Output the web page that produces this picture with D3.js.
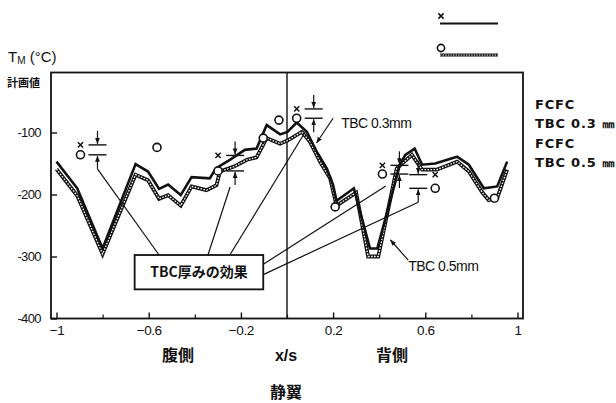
<!DOCTYPE html>
<html><head><meta charset="utf-8">
<script src="https://cdn.jsdelivr.net/npm/d3@7"></script>
<style>body{margin:0;background:#fff}svg{display:block}</style>
</head><body>
<svg id="chart" width="616" height="403"></svg>
<script>
// Metal temperature along the vane surface, x/s from pressure side (-1) to suction side (+1)
// FCFC, TBC 0.3 mm (solid line)
const tbc03X = [-1.0, -0.91, -0.80, -0.657, -0.603, -0.555, -0.516, -0.461, -0.414, -0.335, -0.309, -0.248, -0.183, -0.132, -0.088, -0.03, 0.002, 0.042, 0.086, 0.129, 0.173, 0.20, 0.215, 0.29, 0.36, 0.392, 0.49, 0.513, 0.554, 0.586, 0.643, 0.738, 0.789, 0.854, 0.912, 0.955];
const tbc03T = [-147, -190, -287, -151, -163, -191, -184, -201, -172, -174, -158, -144, -128, -126, -88, -103, -99, -84, -99, -131, -158, -185, -210, -190, -287, -287, -152, -136, -126, -152, -150, -139, -152, -190, -187, -147];
// FCFC, TBC 0.5 mm (hatched line)
const tbc05X = [-1.0, -0.91, -0.80, -0.657, -0.603, -0.555, -0.516, -0.461, -0.414, -0.349, -0.306, -0.291, -0.23, -0.174, -0.132, -0.088, -0.03, 0.002, 0.064, 0.10, 0.143, 0.187, 0.215, 0.30, 0.352, 0.396, 0.476, 0.542, 0.586, 0.649, 0.738, 0.789, 0.846, 0.875, 0.912, 0.955];
const tbc05T = [-159, -202, -296, -168, -177, -207, -201, -218, -187, -193, -185, -163, -155, -144, -140, -109, -118, -113, -99, -115, -147, -174, -218, -197, -300, -300, -158, -136, -160, -160, -147, -163, -196, -209, -206, -160];
// Design values (計画値): × for TBC 0.3 mm, ○ for TBC 0.5 mm
const planCrossX = [-0.896, -0.299, 0.042, 0.414, 0.643];
const planCrossT = [-120, -137, -62, -153, -168];
const planCircleX = [-0.896, -0.564, -0.299, -0.103, -0.035, 0.042, 0.209, 0.414, 0.643, 0.90];
const planCircleT = [-136, -124, -162, -109, -80, -77, -220, -167, -190, -206];
// Thickness effect markers: design value pairs (× upper, ○ lower)
const effectX = [-0.896, -0.299, 0.042, 0.414, 0.643];
const effectHi = [-120, -137, -62, -153, -168];
const effectLo = [-136, -162, -77, -167, -190];
// Axis ticks
const xTicks = [-1, -0.6, -0.2, 0.2, 0.6, 1];
const xTickLabels = ["\u22121", "\u22120.6", "\u22120.2", "0.2", "0.6", "1"];
const xMinorTicks = [-0.8, -0.4, 0, 0.4, 0.8];
const yTicks = [-100, -200, -300, -400];
const yTickLabels = ["-100", "-200", "-300", "-400"];

const svg = d3.select("#chart");
const INK = "#111";
const latin = "'Liberation Sans', Arial, sans-serif";
const cjk = "'Noto Sans CJK JP', 'Noto Sans', sans-serif";

const plot = {left: 51, right: 523, top: 72.5, bottom: 318.5};
const x = d3.scaleLinear().domain([-1, 1]).range([56.5, 517.5]);
const y = d3.scaleLinear().domain([-400, 0]).range([318.5, 70.5]);

// frame
svg.append("rect")
  .attr("x", plot.left).attr("y", plot.top)
  .attr("width", plot.right - plot.left).attr("height", plot.bottom - plot.top)
  .attr("fill", "none").attr("stroke", INK).attr("stroke-width", 1.8);

// x/s = 0 (leading edge) divider
svg.append("line")
  .attr("x1", x(0)).attr("x2", x(0))
  .attr("y1", plot.top).attr("y2", plot.bottom)
  .attr("stroke", INK).attr("stroke-width", 1.4);

// y axis
const yAxis = svg.append("g").attr("transform", `translate(${plot.left},0)`)
  .call(d3.axisLeft(y).tickValues(yTicks).tickSizeInner(-6).tickSizeOuter(0).tickPadding(10)
    .tickFormat((d, i) => yTickLabels[i]));
yAxis.select(".domain").remove();
yAxis.selectAll("line").attr("stroke", INK).attr("stroke-width", 1.4);
yAxis.selectAll("text").attr("font-family", latin).attr("font-size", 13)
  .attr("fill", INK).attr("letter-spacing", -0.6);

// x axis
const xAxis = svg.append("g").attr("transform", `translate(0,${plot.bottom})`)
  .call(d3.axisBottom(x).tickValues(xTicks).tickSizeInner(-6).tickSizeOuter(0).tickPadding(7)
    .tickFormat((d, i) => xTickLabels[i]));
xAxis.select(".domain").remove();
xAxis.selectAll("line").attr("stroke", INK).attr("stroke-width", 1.4);
xAxis.selectAll("text").attr("font-family", latin).attr("font-size", 13.5)
  .attr("fill", INK).attr("letter-spacing", -0.4);

const xMinor = svg.append("g").attr("transform", `translate(0,${plot.bottom})`)
  .call(d3.axisBottom(x).tickValues(xMinorTicks).tickSizeInner(-4).tickSizeOuter(0).tickFormat(""));
xMinor.select(".domain").remove();
xMinor.selectAll("line").attr("stroke", INK).attr("stroke-width", 1.2);

// curves
const line = d3.line().x(d => x(d[0])).y(d => y(d[1]));
const pts05 = tbc05X.map((v, i) => [v, tbc05T[i]]);
const pts03 = tbc03X.map((v, i) => [v, tbc03T[i]]);

svg.append("path").attr("d", line(pts05))
  .attr("fill", "none").attr("stroke", INK).attr("stroke-width", 3.8)
  .attr("stroke-linejoin", "miter");
svg.append("path").attr("d", line(pts05))
  .attr("fill", "none").attr("stroke", "#fff").attr("stroke-width", 1.3)
  .attr("stroke-dasharray", "1.6 1.4");
svg.append("path").attr("d", line(pts03))
  .attr("fill", "none").attr("stroke", INK).attr("stroke-width", 2.6)
  .attr("stroke-linejoin", "miter");

// design value markers
function cross(g, cx, cy, s) {
  g.append("path")
    .attr("d", `M${cx - s},${cy - s}L${cx + s},${cy + s}M${cx - s},${cy + s}L${cx + s},${cy - s}`)
    .attr("stroke", INK).attr("stroke-width", 1.5).attr("fill", "none");
}
const marks = svg.append("g");
planCrossX.forEach((v, i) => cross(marks, x(v), y(planCrossT[i]), 2.6));
marks.selectAll("circle.plan").data(planCircleX).join("circle").attr("class", "plan")
  .attr("cx", d => x(d)).attr("cy", (d, i) => y(planCircleT[i])).attr("r", 4)
  .attr("fill", "#fff").attr("stroke", INK).attr("stroke-width", 1.6);

// arrowheads
const defs = svg.append("defs");
defs.append("marker").attr("id", "ah").attr("viewBox", "0 0 10 10")
  .attr("refX", 10).attr("refY", 5).attr("markerWidth", 6).attr("markerHeight", 6)
  .attr("markerUnits", "userSpaceOnUse").attr("orient", "auto")
  .append("path").attr("d", "M0,1L10,5L0,9Z").attr("fill", INK);

// thickness-effect brackets: two bars with converging arrows
const bracketSide = [1, 1, 1, 1, -1];
const ann = svg.append("g").attr("stroke", INK).attr("fill", "none");
const tails = [];
effectX.forEach((v, i) => {
  const cx = x(v) + bracketSide[i] * 17;
  const yh = y(effectHi[i]), yl = y(effectLo[i]);
  ann.append("line").attr("x1", cx - 9).attr("x2", cx + 9).attr("y1", yh).attr("y2", yh).attr("stroke-width", 1.4);
  ann.append("line").attr("x1", cx - 9).attr("x2", cx + 9).attr("y1", yl).attr("y2", yl).attr("stroke-width", 1.4);
  ann.append("line").attr("x1", cx).attr("x2", cx).attr("y1", yh - 14).attr("y2", yh - 1)
    .attr("stroke-width", 1.2).attr("marker-end", "url(#ah)");
  ann.append("line").attr("x1", cx).attr("x2", cx).attr("y1", yl + 14).attr("y2", yl + 1)
    .attr("stroke-width", 1.2).attr("marker-end", "url(#ah)");
  tails.push([cx, yl + 14]);
});

// "TBC厚みの効果" call-out box with leaders
const box = {x0: -0.661, x1: -0.103, t0: -297.6, t1: -353};
const bx0 = x(box.x0), bx1 = x(box.x1), by0 = y(box.t0), by1 = y(box.t1);
const anchors = [
  [bx0 + (bx1 - bx0) * 0.19, by0],
  [bx0 + (bx1 - bx0) * 0.57, by0],
  [bx0 + (bx1 - bx0) * 0.74, by0],
  [bx1, by0 + (by1 - by0) * 0.27],
  [bx1, by0 + (by1 - by0) * 0.57]
];
const leaderTarget = [tails[0], [tails[1][0] - 5, tails[1][1] + 2], [tails[2][0] - 8, tails[2][1] - 1], [x(0.42) + 2, y(-167) + 12], tails[4]];
anchors.forEach((a, i) => {
  ann.append("line").attr("x1", a[0]).attr("y1", a[1])
    .attr("x2", leaderTarget[i][0]).attr("y2", leaderTarget[i][1]).attr("stroke-width", 1.2);
});
svg.append("rect").attr("x", bx0).attr("y", by0).attr("width", bx1 - bx0).attr("height", by1 - by0)
  .attr("fill", "#fff").attr("stroke", INK).attr("stroke-width", 1.8);
svg.append("text").attr("x", (bx0 + bx1) / 2).attr("y", (by0 + by1) / 2 + 5)
  .attr("text-anchor", "middle").attr("font-family", cjk).attr("font-weight", 700)
  .attr("font-size", 14).attr("fill", INK).text("TBC厚みの効果");

// curve labels
svg.append("line").attr("x1", x(0.2)).attr("y1", y(-77)).attr("x2", x(0.128)).attr("y2", y(-117))
  .attr("stroke", INK).attr("stroke-width", 1.2).attr("marker-end", "url(#ah)");
svg.append("text").attr("x", x(0.235)).attr("y", y(-92)).attr("font-family", latin)
  .attr("font-size", 14).attr("letter-spacing", -0.5).attr("fill", INK).text("TBC 0.3mm");
svg.append("line").attr("x1", x(0.526)).attr("y1", y(-306)).attr("x2", x(0.448)).attr("y2", y(-273))
  .attr("stroke", INK).attr("stroke-width", 1.2).attr("marker-end", "url(#ah)");
svg.append("text").attr("x", x(0.526)).attr("y", y(-323)).attr("font-family", latin)
  .attr("font-size", 14).attr("letter-spacing", -0.5).attr("fill", INK).text("TBC 0.5mm");

// axis titles
const yt = svg.append("text").attr("x", 8).attr("y", 62).attr("font-family", latin)
  .attr("font-size", 15).attr("fill", INK);
yt.append("tspan").text("T");
yt.append("tspan").attr("font-size", 10).attr("dy", 2).text("M");
yt.append("tspan").attr("dy", -2).text(" (°C)");
svg.append("text").attr("x", 7).attr("y", 87).attr("font-family", cjk).attr("font-weight", 700)
  .attr("font-size", 11).attr("fill", INK).text("計画値");

svg.append("text").attr("x", 178).attr("y", 361).attr("text-anchor", "middle").attr("font-family", cjk)
  .attr("font-weight", 700).attr("font-size", 16).attr("fill", INK).text("腹側");
svg.append("text").attr("x", 286).attr("y", 361).attr("text-anchor", "middle").attr("font-family", latin)
  .attr("font-weight", 700).attr("font-size", 16).attr("fill", INK).text("x/s");
svg.append("text").attr("x", 392).attr("y", 361).attr("text-anchor", "middle").attr("font-family", cjk)
  .attr("font-weight", 700).attr("font-size", 16).attr("fill", INK).text("背側");
svg.append("text").attr("x", 286).attr("y", 398).attr("text-anchor", "middle").attr("font-family", cjk)
  .attr("font-weight", 700).attr("font-size", 16).attr("fill", INK).text("静翼");

// legend
const leg = svg.append("g");
cross(leg, 441, 16, 2.6);
leg.append("line").attr("x1", 440).attr("x2", 498).attr("y1", 23.5).attr("y2", 23.5)
  .attr("stroke", INK).attr("stroke-width", 2);
leg.append("circle").attr("cx", 441).attr("cy", 48).attr("r", 3.6)
  .attr("fill", "#fff").attr("stroke", INK).attr("stroke-width", 1.6);
leg.append("line").attr("x1", 440).attr("x2", 498).attr("y1", 55).attr("y2", 55)
  .attr("stroke", INK).attr("stroke-width", 3);
leg.append("line").attr("x1", 440).attr("x2", 498).attr("y1", 55).attr("y2", 55)
  .attr("stroke", "#fff").attr("stroke-width", 1).attr("stroke-dasharray", "1.4 1.2");

const legendText = ["FCFC", "TBC 0.3 ㎜", "FCFC", "TBC 0.5 ㎜"];
const legendBase = [108.5, 127.5, 148, 167];
svg.append("g").selectAll("text").data(legendText).join("text")
  .attr("x", 535).attr("y", (d, i) => legendBase[i])
  .attr("font-family", "'DejaVu Sans', sans-serif").attr("font-weight", 700)
  .attr("font-size", 13).attr("letter-spacing", 0.8).attr("fill", INK).text(d => d);
</script>
</body></html>
